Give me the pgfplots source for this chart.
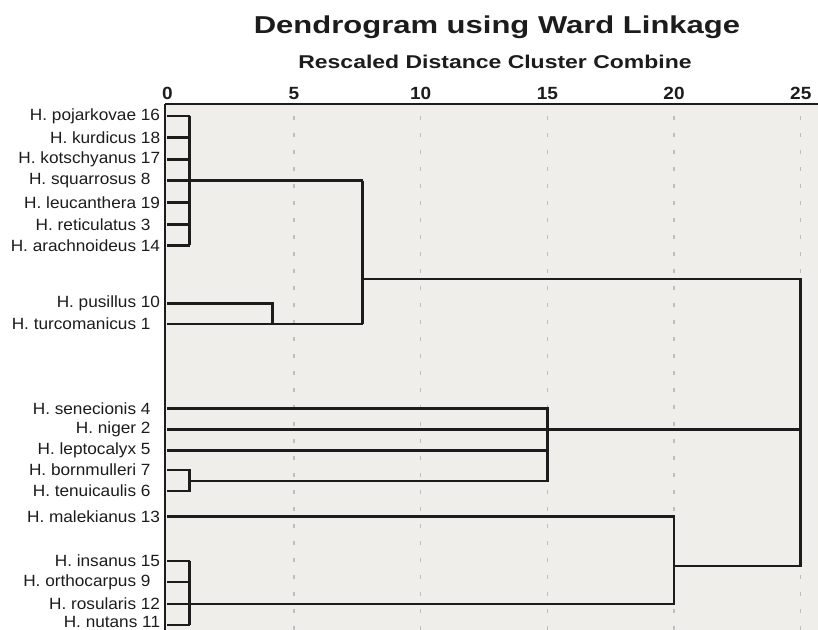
\documentclass[border=0pt]{standalone}
\usepackage{pgfplots}
\pgfplotsset{compat=1.18}
\usepackage{fontspec}
\usepackage{graphicx}
\setmainfont{Liberation Sans}
\definecolor{bgc}{RGB}{240,238,235}
\definecolor{ink}{RGB}{28,28,28}
\definecolor{gridc}{RGB}{190,190,190}
\newcommand{\sd}{\hphantom{0}}
\newcommand{\lf}[1]{\scalebox{1.06}[1]{#1}}
\newcommand{\tk}[1]{\scalebox{1.08}[1]{#1}}
\begin{document}
\begin{tikzpicture}
\path[use as bounding box] (0,0) rectangle (818bp,630bp);
\node[anchor=base, text=ink, inner sep=0pt, font=\fontsize{24.5}{26}\selectfont\bfseries] at (497bp,596bp) {\scalebox{1.27}[1]{Dendrogram using Ward Linkage}};
\node[anchor=base, text=ink, inner sep=0pt, font=\fontsize{18.6}{20}\selectfont\bfseries] at (495bp,561.7bp) {\scalebox{1.24}[1]{Rescaled Distance Cluster Combine}};
\begin{axis}[
  at={(164.8bp,0bp)}, anchor=south west,
  scale only axis, width=653.2bp, height=525.7bp,
  xmin=-0.1, xmax=25.68, ymin=0, ymax=525.7,
  axis x line*=top, axis y line*=left,
  axis line style={line width=2.4bp, draw=ink},
  axis background/.style={fill=bgc},
  major tick length=0pt,
  xtick={5,10,15,20,25},
  xticklabels={\tk{5},\tk{10},\tk{15},\tk{20},\tk{25}},
  extra x ticks={0}, extra x tick labels={\tk{0}},
  extra x tick style={grid=none},
  xmajorgrids,
  major grid style={draw=gridc, line width=1.4bp, dash pattern=on 4bp off 13bp},
  xticklabel style={anchor=base, inner sep=0pt, yshift=4.3bp, text=ink, font=\fontsize{17.7}{20}\selectfont\bfseries},
  ytick={514,492.3,470.7,449.3,427.3,405.3,384.7,326.7,306,221.7,200.5,179.3,160,139,113.3,69,48,26,5},
  yticklabels={\lf{H. pojarkovae 16},\lf{H. kurdicus 18},\lf{H. kotschyanus 17},\lf{H. squarrosus 8\sd},\lf{H. leucanthera 19},\lf{H. reticulatus 3\sd},\lf{H. arachnoideus 14},\lf{H. pusillus 10},\lf{H. turcomanicus 1\sd},\lf{H. senecionis 4\sd},\lf{H. niger 2\sd},\lf{H. leptocalyx 5\sd},\lf{H. bornmulleri 7\sd},\lf{H. tenuicaulis 6\sd},\lf{H. malekianus 13},\lf{H. insanus 15},\lf{H. orthocarpus 9\sd},\lf{H. rosularis 12},\raisebox{6bp}{\lf{H. nutans 11}}},
  yticklabel style={anchor=east, inner sep=0pt, xshift=-4.5bp, text=ink, font=\fontsize{16.3}{18}\selectfont},
  dg/.style={no marks, line width=2.6bp, draw=ink, solid, sharp plot, line join=miter},
]
% cluster A (7 leaves)
\addplot[dg] coordinates {(0,514) (0.88,514)};
\addplot[dg] coordinates {(0,492.3) (0.88,492.3)};
\addplot[dg] coordinates {(0,470.7) (0.88,470.7)};
\addplot[dg] coordinates {(0,449.3) (7.71,449.3)};
\addplot[dg] coordinates {(0,427.3) (0.88,427.3)};
\addplot[dg] coordinates {(0,405.3) (0.88,405.3)};
\addplot[dg] coordinates {(0,384.7) (0.88,384.7)};
\addplot[dg] coordinates {(0.88,514) (0.88,384.7)};
% cluster B
\addplot[dg] coordinates {(0,326.7) (4.14,326.7) (4.14,306)};
\addplot[dg] coordinates {(0,306) (7.71,306)};
\addplot[dg] coordinates {(7.71,449.3) (7.71,306)};
% top join
\addplot[dg] coordinates {(7.71,351) (25,351) (25,64) (20,64)};
% cluster C
\addplot[dg] coordinates {(0,221.7) (15,221.7) (15,149) (0.88,149)};
\addplot[dg] coordinates {(0,200.5) (25,200.5)};
\addplot[dg] coordinates {(0,179.3) (15,179.3)};
\addplot[dg] coordinates {(0,160) (0.88,160) (0.88,139) (0,139)};
% cluster D
\addplot[dg] coordinates {(0,113.3) (20,113.3) (20,26) (0,26)};
\addplot[dg] coordinates {(0,69) (0.88,69)};
\addplot[dg] coordinates {(0,48) (0.88,48)};
\addplot[dg] coordinates {(0,5) (0.88,5)};
\addplot[dg] coordinates {(0.88,69) (0.88,5)};
\end{axis}
\end{tikzpicture}
\end{document}
